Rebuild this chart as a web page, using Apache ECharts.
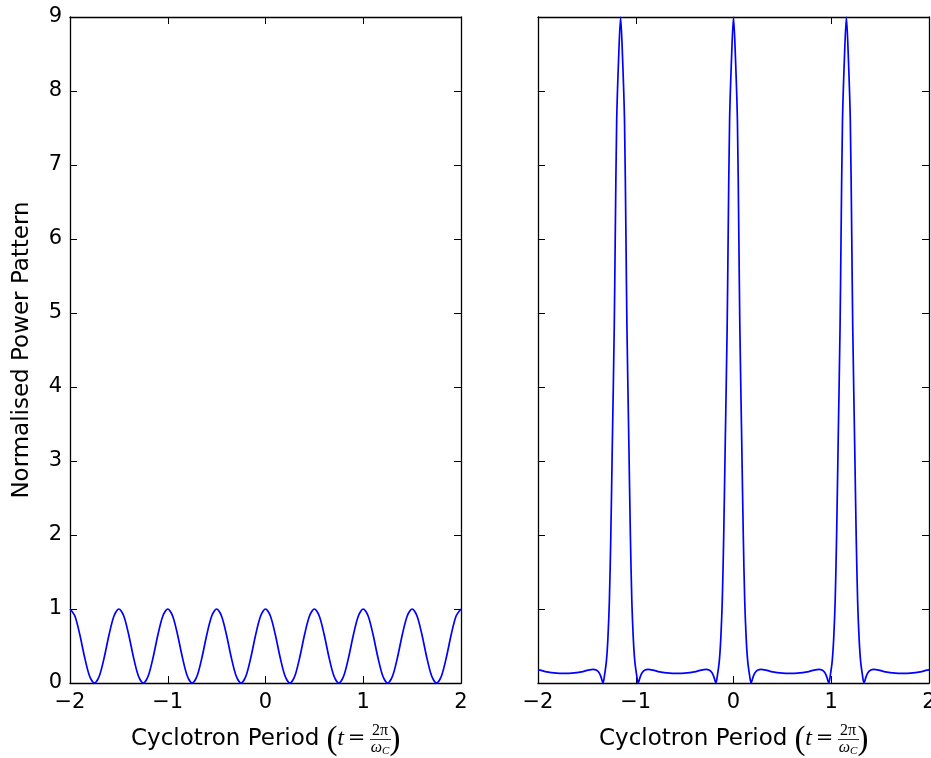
<!DOCTYPE html>
<html>
<head>
<meta charset="utf-8">
<script src="https://cdn.jsdelivr.net/npm/echarts/dist/echarts.min.js"></script>
<style>
html,body{margin:0;padding:0;background:#fff;}
#chart{width:931px;height:758px;}
</style>
</head>
<body>
<div id="chart"></div>
<script>
// ---- data ----
const xTickValues = [-2, -1, 0, 1, 2];
const yTickValues = [0, 1, 2, 3, 4, 5, 6, 7, 8, 9];

const leftT = [-2,-1.95,-1.9,-1.85,-1.8,-1.75,-1.7,-1.65,-1.6,-1.55,-1.5,-1.45,-1.4,-1.35,-1.3,-1.25,-1.2,-1.15,-1.1,-1.05,
  -1,-0.95,-0.9,-0.85,-0.8,-0.75,-0.7,-0.65,-0.6,-0.55,-0.5,-0.45,-0.4,-0.35,-0.3,-0.25,-0.2,-0.15,-0.1,-0.05,
  0,0.05,0.1,0.15,0.2,0.25,0.3,0.35,0.4,0.45,0.5,0.55,0.6,0.65,0.7,0.75,0.8,0.85,0.9,0.95,
  1,1.05,1.1,1.15,1.2,1.25,1.3,1.35,1.4,1.45,1.5,1.55,1.6,1.65,1.7,1.75,1.8,1.85,1.9,1.95,2];
const leftP = [1,0.905,0.655,0.345,0.095,0,0.095,0.345,0.655,0.905,
  1,0.905,0.655,0.345,0.095,0,0.095,0.345,0.655,0.905,
  1,0.905,0.655,0.345,0.095,0,0.095,0.345,0.655,0.905,
  1,0.905,0.655,0.345,0.095,0,0.095,0.345,0.655,0.905,
  1,0.905,0.655,0.345,0.095,0,0.095,0.345,0.655,0.905,
  1,0.905,0.655,0.345,0.095,0,0.095,0.345,0.655,0.905,
  1,0.905,0.655,0.345,0.095,0,0.095,0.345,0.655,0.905,
  1,0.905,0.655,0.345,0.095,0,0.095,0.345,0.655,0.905,
  1];

const rightT = [-2.00,-1.98,-1.91,-1.81,-1.7325,-1.655,-1.555,-1.485,-1.435,-1.405,-1.375,-1.355,-1.335,
  -1.32,-1.30,-1.285,-1.27,-1.255,-1.24,-1.22,-1.21,-1.195,-1.175,-1.155,-1.135,-1.115,-1.10,-1.09,-1.07,-1.055,-1.04,-1.025,-1.01,-0.99,-0.975,
  -0.955,-0.935,-0.905,-0.875,-0.825,-0.755,-0.655,-0.5775,-0.50,-0.40,-0.33,-0.28,-0.25,-0.22,-0.20,-0.18,
  -0.165,-0.145,-0.13,-0.115,-0.10,-0.085,-0.065,-0.055,-0.04,-0.02,0,
  0.02,0.04,0.055,0.065,0.085,0.10,0.115,0.13,0.145,0.165,0.18,
  0.20,0.22,0.25,0.28,0.33,0.40,0.50,0.5775,0.655,0.755,0.825,0.875,0.905,0.935,0.955,0.975,
  0.99,1.01,1.025,1.04,1.055,1.07,1.09,1.10,1.115,1.135,1.155,1.175,1.195,1.21,1.22,1.24,1.255,1.27,1.285,1.30,1.32,1.335,
  1.355,1.375,1.405,1.435,1.485,1.555,1.655,1.7325,1.81,1.91,1.98,2.00];
const rightP = [0.178,0.175,0.15,0.133,0.13,0.133,0.15,0.175,0.185,0.175,0.14,0.08,0,
  0.1,0.3,0.6,1.1,2.0,3.2,4.8,6.0,7.6,8.45,9,8.45,7.6,6.0,4.8,3.2,2.0,1.1,0.6,0.3,0.1,0,
  0.08,0.14,0.175,0.185,0.175,0.15,0.133,0.13,0.133,0.15,0.175,0.185,0.175,0.14,0.08,0,
  0.1,0.3,0.6,1.1,2.0,3.2,4.8,6.0,7.6,8.45,9,
  8.45,7.6,6.0,4.8,3.2,2.0,1.1,0.6,0.3,0.1,0,
  0.08,0.14,0.175,0.185,0.175,0.15,0.133,0.13,0.133,0.15,0.175,0.185,0.175,0.14,0.08,0,
  0.1,0.3,0.6,1.1,2.0,3.2,4.8,6.0,7.6,8.45,9,8.45,7.6,6.0,4.8,3.2,2.0,1.1,0.6,0.3,0.1,0,
  0.08,0.14,0.175,0.185,0.175,0.15,0.133,0.13,0.133,0.15,0.175,0.178];

const yAxisTitle = 'Normalised Power Pattern';
const xAxisTitle = 'Cyclotron Period';

// ---- chart ----
const chart = echarts.init(document.getElementById('chart'), null, {renderer: 'canvas'});
const FONT = 'DejaVu Sans';
const fmt = v => String(v).replace('-', '\u2212');

function xAx(grid, pos, labels) {
  return {
    type: 'value', gridIndex: grid, position: pos,
    min: xTickValues[0], max: xTickValues[xTickValues.length - 1], interval: 1,
    axisLine: {show: true, onZero: false, lineStyle: {color: '#000', width: 1.3}},
    axisTick: {show: true, inside: true, length: 7, lineStyle: {color: '#000', width: 1}},
    axisLabel: {show: labels, color: '#000', fontFamily: FONT, fontSize: 21, margin: 9,
      showMinLabel: true, showMaxLabel: true, hideOverlap: false, formatter: fmt},
    splitLine: {show: false}
  };
}
function yAx(grid, pos, labels) {
  return {
    type: 'value', gridIndex: grid, position: pos,
    min: yTickValues[0], max: yTickValues[yTickValues.length - 1], interval: 1,
    axisLine: {show: true, onZero: false, lineStyle: {color: '#000', width: 1.3}},
    axisTick: {show: true, inside: true, length: 7, lineStyle: {color: '#000', width: 1}},
    axisLabel: {show: labels, color: '#000', fontFamily: FONT, fontSize: 21, margin: 8,
      showMinLabel: true, showMaxLabel: true, formatter: fmt},
    splitLine: {show: false}
  };
}

function titleParts(dx) {
  const serif = 'Liberation Serif';
  return [
    {type: 'text', x: 131 + dx, y: 739.5, style: {text: xAxisTitle, fill: '#000', font: '23px "' + FONT + '"', align: 'left', verticalAlign: 'middle'}},
    {type: 'text', x: 332 + dx, y: 740, style: {text: '(', fill: '#000', font: '33px "' + serif + '"', align: 'center', verticalAlign: 'middle'}},
    {type: 'text', x: 340.5 + dx, y: 739, style: {text: 't', fill: '#000', font: 'italic 24px "' + serif + '"', align: 'center', verticalAlign: 'middle'}},
    {type: 'text', x: 356.5 + dx, y: 739, style: {text: '=', fill: '#000', font: '21px "DejaVu Serif"', align: 'center', verticalAlign: 'middle'}},
    {type: 'text', x: 380 + dx, y: 731, style: {text: '2\u03c0', fill: '#000', font: '16px "' + serif + '"', align: 'center', verticalAlign: 'middle'}},
    {type: 'line', shape: {x1: 370 + dx, y1: 739.5, x2: 391 + dx, y2: 739.5}, style: {stroke: '#000', lineWidth: 0.8}},
    {type: 'text', x: 380 + dx, y: 748, style: {
      text: '{w|\u03c9}{c|C}', align: 'center', verticalAlign: 'middle',
      rich: {w: {fontFamily: serif, fontStyle: 'italic', fontSize: 16, fill: '#000', color: '#000'},
             c: {fontFamily: serif, fontStyle: 'italic', fontSize: 11, fill: '#000', color: '#000', padding: [6, 0, 0, 0]}}}},
    {type: 'text', x: 395 + dx, y: 740, style: {text: ')', fill: '#000', font: '33px "' + serif + '"', align: 'center', verticalAlign: 'middle'}}
  ];
}

const option = {
  animation: false,
  backgroundColor: '#fff',
  grid: [
    {left: 70, top: 17, width: 391, height: 666, containLabel: false, outerBoundsMode: 'none'},
    {left: 538, top: 17, width: 391, height: 666, containLabel: false, outerBoundsMode: 'none'}
  ],
  xAxis: [xAx(0, 'bottom', true), xAx(0, 'top', false), xAx(1, 'bottom', true), xAx(1, 'top', false)],
  yAxis: [yAx(0, 'left', true), yAx(0, 'right', false), yAx(1, 'left', false), yAx(1, 'right', false)],
  series: [
    {type: 'line', xAxisIndex: 0, yAxisIndex: 0, showSymbol: false, smooth: 0.3, clip: true,
      lineStyle: {color: '#0000ff', width: 1.7}, itemStyle: {color: '#0000ff'},
      data: leftT.map((t, i) => [t, leftP[i]])},
    {type: 'line', xAxisIndex: 2, yAxisIndex: 2, showSymbol: false, smooth: 0.3, clip: true,
      lineStyle: {color: '#0000ff', width: 1.7}, itemStyle: {color: '#0000ff'},
      data: rightT.map((t, i) => [t, rightP[i]])}
  ],
  graphic: [
    {type: 'text', x: 22.5, y: 350, rotation: Math.PI / 2,
      style: {text: yAxisTitle, fill: '#000', font: '23px "' + FONT + '"', align: 'center', verticalAlign: 'middle'}}
  ].concat(titleParts(0), titleParts(468))
};
chart.setOption(option);
</script>
</body>
</html>
